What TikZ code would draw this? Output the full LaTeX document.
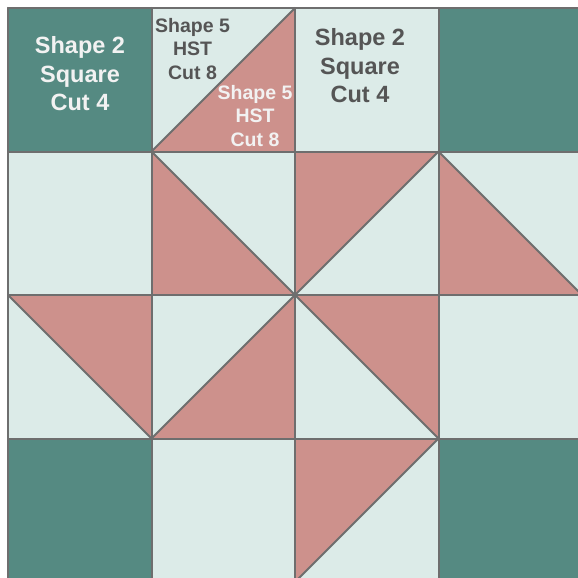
\documentclass[tikz,border=0pt]{standalone}
\usepackage{fontspec}
\setmainfont{Liberation Sans}
\definecolor{qteal}{HTML}{558A82}
\definecolor{qlight}{HTML}{DCEBE8}
\definecolor{qpink}{HTML}{CD918C}
\definecolor{qline}{HTML}{6E6E6E}
\definecolor{qdark}{HTML}{555555}
\definecolor{qwhite}{HTML}{F2F2F2}
\tikzset{
  gridline/.style={draw=qline, line width=2pt, line cap=round, line join=round},
  bigtext/.style={align=center, inner sep=0pt, font=\fontsize{23.5}{28.5}\selectfont\bfseries},
  smalltext/.style={align=center, inner sep=0pt, font=\fontsize{19.5}{23.5}\selectfont\bfseries},
  piece/.style={fill=qpink},
  darksq/.style={fill=qteal}
}
\begin{document}
\begin{tikzpicture}[x=1pt,y=-1pt]
\useasboundingbox (0,0) rectangle (578,578);
\fill[white] (0,0) rectangle (578,578);
\fill[qlight] (8,8) rectangle (582,582);
% dark squares
\fill[darksq] (8,8) rectangle (151.5,151.5);
\fill[darksq] (438.5,8) rectangle (582,151.5);
\fill[darksq] (8,438.5) rectangle (151.5,582);
\fill[darksq] (438.5,438.5) rectangle (582,582);
% pink triangles
\fill[piece] (151.5,151.5) -- (295,8) -- (295,151.5) -- cycle;
\fill[piece] (151.5,151.5) -- (151.5,295) -- (295,295) -- cycle;
\fill[piece] (295,151.5) -- (438.5,151.5) -- (295,295) -- cycle;
\fill[piece] (438.5,151.5) -- (438.5,295) -- (582,295) -- cycle;
\fill[piece] (8,295) -- (151.5,295) -- (151.5,438.5) -- cycle;
\fill[piece] (295,295) -- (295,438.5) -- (151.5,438.5) -- cycle;
\fill[piece] (295,295) -- (438.5,295) -- (438.5,438.5) -- cycle;
\fill[piece] (295,438.5) -- (438.5,438.5) -- (295,582) -- cycle;
% grid lines
\foreach \v in {8,151.5,295,438.5,582} {
  \draw[gridline] (\v,8) -- (\v,582);
  \draw[gridline] (8,\v) -- (582,\v);
}
% diagonals
\draw[gridline] (151.5,151.5) -- (295,8);
\draw[gridline] (151.5,151.5) -- (295,295);
\draw[gridline] (438.5,151.5) -- (295,295);
\draw[gridline] (438.5,151.5) -- (582,295);
\draw[gridline] (8,295) -- (151.5,438.5);
\draw[gridline] (295,295) -- (151.5,438.5);
\draw[gridline] (295,295) -- (438.5,438.5);
\draw[gridline] (438.5,438.5) -- (295,582);
% labels
\node[bigtext, text=qwhite] (sq1) at (80,74) {Shape 2\\Square\\Cut 4};
\node[bigtext, text=qdark] (sq2) at (360,66) {Shape 2\\Square\\Cut 4};
\node[smalltext, text=qdark] (hst1) at (192.5,49) {Shape 5\\HST\\Cut 8};
\node[smalltext, text=qwhite] (hst2) at (255,116) {Shape 5\\HST\\Cut 8};
\end{tikzpicture}
\end{document}
